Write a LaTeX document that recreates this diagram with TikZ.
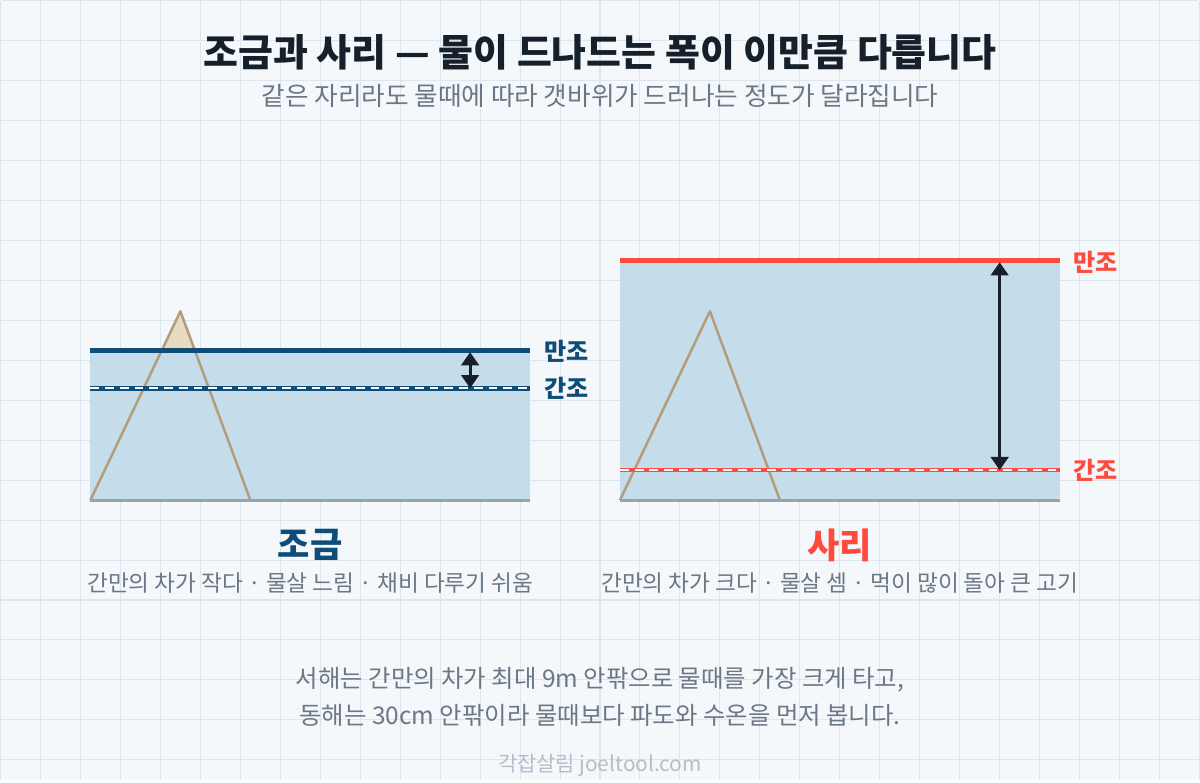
\documentclass[tikz,border=0pt]{standalone}
\usepackage{fontspec}
\setmainfont{Noto Sans CJK KR}
\usetikzlibrary{arrows.meta}
\definecolor{ink}{HTML}{15202B}
\definecolor{mute}{HTML}{6B7785}
\definecolor{navy}{HTML}{0E4D78}
\definecolor{tide}{HTML}{FF4B3E}
\definecolor{sea}{HTML}{C5DCEB}
\definecolor{rock}{HTML}{B39C7B}
\definecolor{sand}{HTML}{E8DBC2}
\definecolor{floor}{HTML}{95A3AF}
\definecolor{paper}{HTML}{F5F8FB}
\definecolor{gridc}{HTML}{DCE6EF}
\definecolor{faint}{HTML}{B5BEC7}
\newcommand{\fs}[1]{\fontsize{#1}{1.2\dimexpr#1pt\relax}\selectfont}

\begin{document}
\begin{tikzpicture}[x=0.02cm,y=-0.02cm,
  lvl/.style={line width=2.8pt},
  gap/.style={white,line width=1.1pt,dash pattern=on 5pt off 3.4pt},
  tiderange/.style={{Triangle[width=10pt,length=7.5pt]}-{Triangle[width=10pt,length=7.5pt]},line width=1.7pt,ink},
  rockline/.style={rock,line width=1.4pt,line join=round},
  tag/.style={font=\fs{13.7}\bfseries,anchor=west}]
\fill[paper] (0,0) rectangle (1200,780);
\foreach \gx in {0,40,...,1200} \draw[gridc,line width=0.6pt] (\gx,0) -- (\gx,780);
\foreach \gy in {0,40,...,760} \draw[gridc,line width=0.6pt] (0,\gy) -- (1200,\gy);

\node[font=\fs{21.6}\bfseries,text=ink] (title) at (600,52) {조금과 사리 — 물이 드나드는 폭이 이만큼 다릅니다};
\node[font=\fs{14.6},text=mute] (sub) at (600,95) {같은 자리라도 물때에 따라 갯바위가 드러나는 정도가 달라집니다};

\fill[sand] (90,500) -- (180,311) -- (250,500) -- cycle;
\fill[sea] (90,350) rectangle (530,500);
\draw[rockline] (90,500) -- (180,311) -- (250,500);
\draw[floor,line width=1.7pt] (90,500) -- (530,500);
\draw[navy,lvl] (90,350) -- (530,350);
\draw[navy,lvl] (90,388) -- (530,388);
\draw[gap] (90,388) -- (530,388);
\coordinate (lhi) at (470,352);
\coordinate (llo) at (470,388);
\draw[tiderange] (lhi) -- (llo);
\node[tag,navy] (lhigh) at (538,351) {만조};
\node[tag,navy] (llow) at (538,388) {간조};

\fill[sea] (620,260) rectangle (1060,500);
\draw[rockline] (620,500) -- (710,311) -- (780,500);
\draw[floor,line width=1.7pt] (620,500) -- (1060,500);
\draw[tide,lvl] (620,260) -- (1060,260);
\draw[tide,line width=2.4pt] (620,470) -- (1060,470);
\draw[gap] (620,470) -- (1060,470);
\coordinate (rhi) at (1000,262);
\coordinate (rlo) at (1000,470);
\draw[tiderange] (rhi) -- (rlo);
\node[tag,tide] (rhigh) at (1068,262) {만조};
\node[tag,tide] (rlow) at (1068,470) {간조};

\node[font=\fs{20}\bfseries,text=navy] (calm) at (310,545) {조금};
\node[font=\fs{20}\bfseries,text=tide] (spring) at (840,545) {사리};
\node[font=\fs{12.9},text=mute] (calmnote) at (310,583) {간만의 차가 작다 · 물살 느림 · 채비 다루기 쉬움};
\node[font=\fs{12.9},text=mute] (springnote) at (840,583) {간만의 차가 크다 · 물살 셈 · 먹이 많이 돌아 큰 고기};

\node[font=\fontsize{13.9}{21}\selectfont,text=mute,align=center] (note) at (600,697)
  {서해는 간만의 차가 최대 9m 안팎으로 물때를 가장 크게 타고,\\동해는 30cm 안팎이라 물때보다 파도와 수온을 먼저 봅니다.};
\node[font=\fs{11.9},text=faint] (credit) at (600,766) {각잡살림 joeltool.com};
\end{tikzpicture}
\end{document}
